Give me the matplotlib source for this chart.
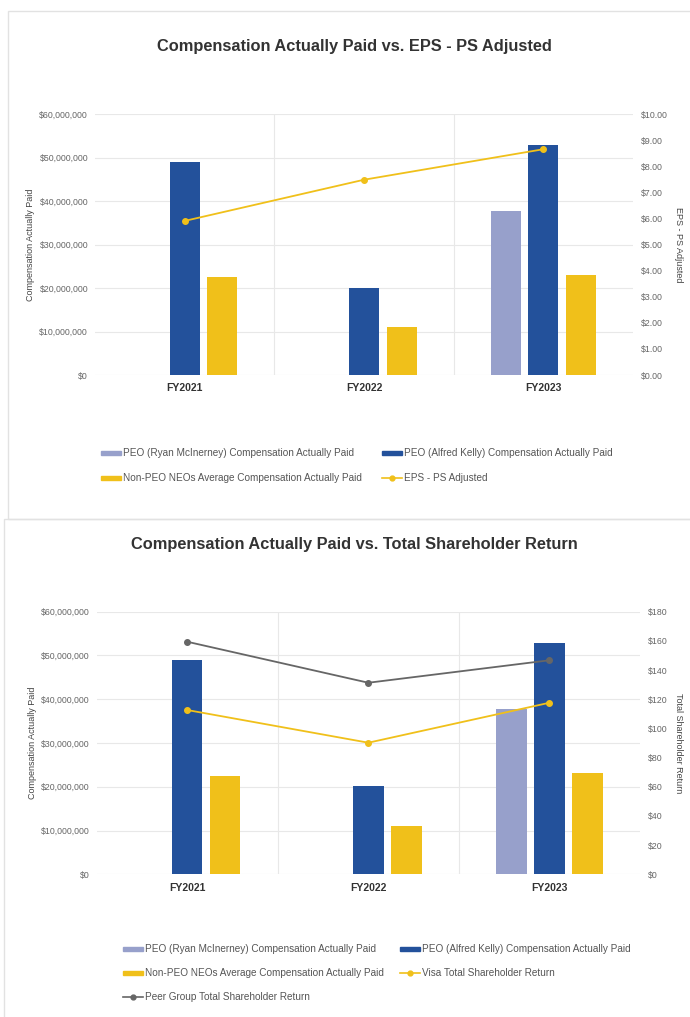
import matplotlib.pyplot as plt
import numpy as np
from matplotlib.patches import Rectangle
from matplotlib.lines import Line2D
from matplotlib.ticker import FuncFormatter

plt.rcParams['font.family'] = ['Liberation Sans', 'DejaVu Sans']

### data ###
years = ['FY2021', 'FY2022', 'FY2023']
peo_mcinerney = [0, 0, 37.8e6]
peo_kelly = [49.0e6, 20.1e6, 52.9e6]
non_peo_avg = [22.5e6, 11.1e6, 23.1e6]
eps_ps_adj = [5.91, 7.49, 8.66]
visa_tsr = [112.6, 90.2, 117.6]
peer_tsr = [159.4, 131.3, 146.7]

lav = '#97A0CB'
blue = '#23519B'
yel = '#F0C01A'
grey = '#666666'
gridc = '#E8E8E8'
tickc = '#666666'

fig = plt.figure(figsize=(6.9, 10.17), dpi=100)
W, H = 690, 1017

# panel frames
for (x0, y0, x1, y1) in [(8, 11, 700, 519), (4, 519, 700, 1020)]:
    fig.add_artist(Rectangle((x0 / W, 1 - y1 / H), (x1 - x0) / W, (y1 - y0) / H,
                             transform=fig.transFigure, fill=False,
                             edgecolor='#E2E2E2', lw=1.0))


def draw_bars(ax):
    x = np.arange(len(years))
    bw = 0.168
    off = 0.21
    ax.bar(x - off, peo_mcinerney, bw, color=lav, zorder=3)
    ax.bar(x, peo_kelly, bw, color=blue, zorder=3)
    ax.bar(x + off, non_peo_avg, bw, color=yel, zorder=3)
    ax.set_xlim(-0.5, 2.5)
    ax.set_ylim(0, 60e6)
    ax.set_yticks(np.arange(0, 60e6 + 1, 10e6))
    ax.yaxis.set_major_formatter(FuncFormatter(lambda v, p: '${:,.0f}'.format(v)))
    ax.set_xticks(x)
    ax.set_xticklabels(years, fontsize=7.5, fontweight='bold', color='#333333')
    ax.tick_params(axis='y', length=0, labelsize=6.3, labelcolor=tickc, pad=5)
    ax.tick_params(axis='x', length=0, pad=6)
    ax.yaxis.grid(True, color=gridc, lw=0.8, zorder=0)
    for xv in [0.5, 1.5]:
        ax.axvline(xv, color=gridc, lw=0.8, zorder=0)
    for s in ax.spines.values():
        s.set_visible(False)
    ax.set_ylabel('Compensation Actually Paid', fontsize=6.5, color='#444444', labelpad=3)


def legend_items(fig, items, y0, xs, dy):
    for i, (kind, color, label) in enumerate(items):
        col = i % 2
        row = i // 2
        fx = xs[col] / W
        fy = 1 - (y0 + row * dy) / H
        if kind == 'bar':
            fig.add_artist(Rectangle((fx, fy - 2 / H), 20 / W, 4 / H,
                                     transform=fig.transFigure, color=color))
        else:
            fig.add_artist(Line2D([fx, fx + 20 / W], [fy, fy], transform=fig.transFigure,
                                  color=color, lw=1.2))
            fig.add_artist(Line2D([fx + 10 / W], [fy], transform=fig.transFigure,
                                  color=color, marker='o', markersize=3.5, lw=0))
        fig.text(fx + 22 / W, fy, label, fontsize=7.2, color='#555555', va='center')


### top chart ###
ax1 = fig.add_axes([95 / W, 1 - 375 / H, (633 - 95) / W, (375 - 114.3) / H])
draw_bars(ax1)
ax1r = ax1.twinx()
ax1r.plot(np.arange(3), eps_ps_adj, color=yel, lw=1.3, marker='o', markersize=4, zorder=4)
ax1r.set_ylim(0, 10)
ax1r.set_yticks(np.arange(0, 10.01, 1))
ax1r.yaxis.set_major_formatter(FuncFormatter(lambda v, p: '${:.2f}'.format(v)))
ax1r.tick_params(axis='y', length=0, labelsize=6.3, labelcolor=tickc, pad=6)
for s in ax1r.spines.values():
    s.set_visible(False)
ax1r.set_ylabel('EPS - PS Adjusted', fontsize=6.5, color='#444444', rotation=270, labelpad=11)
fig.text(354 / W, 1 - 47 / H, 'Compensation Actually Paid vs. EPS - PS Adjusted',
         fontsize=11.8, fontweight='bold', color='#333333', ha='center', va='center')

legend_items(fig, [('bar', lav, 'PEO (Ryan McInerney) Compensation Actually Paid'),
                   ('bar', blue, 'PEO (Alfred Kelly) Compensation Actually Paid'),
                   ('bar', yel, 'Non-PEO NEOs Average Compensation Actually Paid'),
                   ('line', yel, 'EPS - PS Adjusted')],
             453, [101, 382], 25)

### bottom chart ###
ax2 = fig.add_axes([96.7 / W, 1 - 874.3 / H, (640 - 96.7) / W, (874.3 - 611.7) / H])
draw_bars(ax2)
ax2r = ax2.twinx()
ax2r.plot(np.arange(3), visa_tsr, color=yel, lw=1.3, marker='o', markersize=4, zorder=4)
ax2r.plot(np.arange(3), peer_tsr, color=grey, lw=1.3, marker='o', markersize=4, zorder=4)
ax2r.set_ylim(0, 180)
ax2r.set_yticks(np.arange(0, 181, 20))
ax2r.yaxis.set_major_formatter(FuncFormatter(lambda v, p: '${:.0f}'.format(v)))
ax2r.tick_params(axis='y', length=0, labelsize=6.3, labelcolor=tickc, pad=6)
for s in ax2r.spines.values():
    s.set_visible(False)
ax2r.set_ylabel('Total Shareholder Return', fontsize=6.5, color='#444444', rotation=270, labelpad=11)
fig.text(354 / W, 1 - 545 / H, 'Compensation Actually Paid vs. Total Shareholder Return',
         fontsize=11.8, fontweight='bold', color='#333333', ha='center', va='center')

legend_items(fig, [('bar', lav, 'PEO (Ryan McInerney) Compensation Actually Paid'),
                   ('bar', blue, 'PEO (Alfred Kelly) Compensation Actually Paid'),
                   ('bar', yel, 'Non-PEO NEOs Average Compensation Actually Paid'),
                   ('line', yel, 'Visa Total Shareholder Return'),
                   ('line', grey, 'Peer Group Total Shareholder Return')],
             949, [123, 400], 24)

fig.savefig('out.png', dpi=100)
